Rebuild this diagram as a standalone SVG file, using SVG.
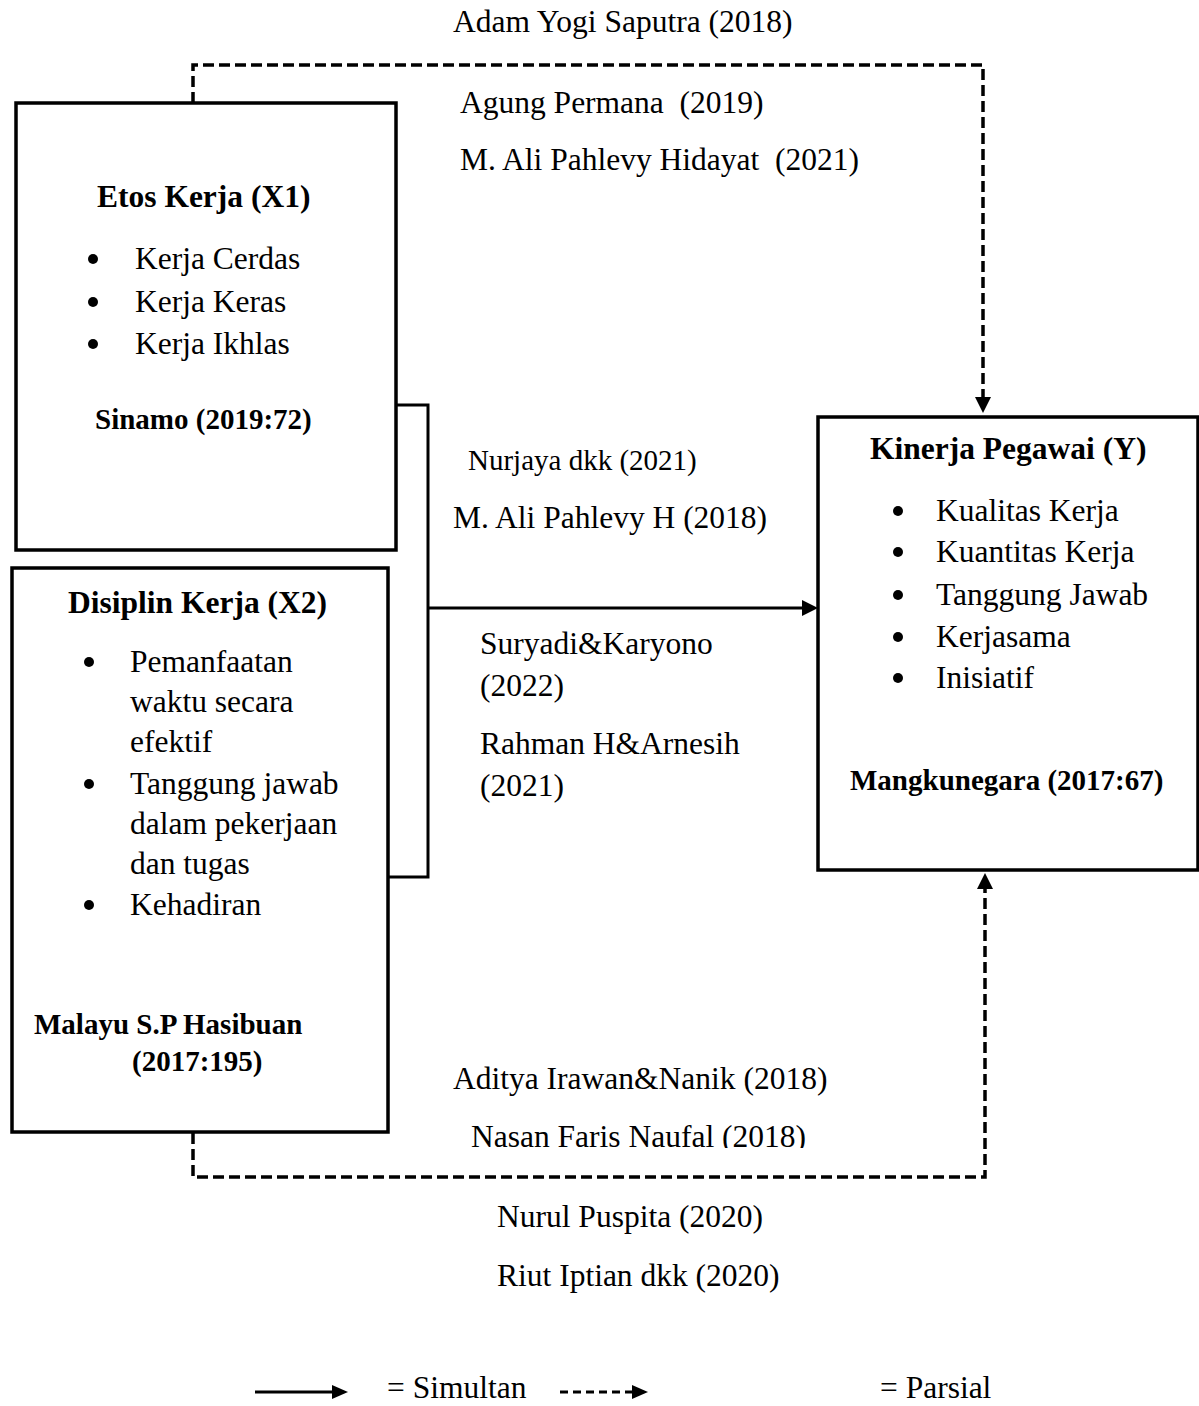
<svg xmlns="http://www.w3.org/2000/svg" width="1199" height="1406" viewBox="0 0 1199 1406">
<style>
text{font-family:"Liberation Serif","Times New Roman",serif;fill:#000;font-size:31.5px;white-space:pre}
.b{font-weight:bold}
.s{font-size:29px}
.box{fill:#fff;stroke:#000;stroke-width:3.5}
.solid{fill:none;stroke:#000;stroke-width:3}
.dash{fill:none;stroke:#000;stroke-width:3.5;stroke-dasharray:11 5}
</style>
<defs>
<clipPath id="clipNasan"><rect x="400" y="1100" width="500" height="48"/></clipPath>
</defs>
<rect width="1199" height="1406" fill="#fff"/>

<g id="connectors">
<path class="dash" d="M193,103 V65 H983 V398"/>
<path d="M975,397 L991,397 L983,413 z" fill="#000"/>
<path class="dash" d="M193,1133 V1177 H985 V889"/>
<path d="M977,889 L993,889 L985,873 z" fill="#000"/>
<path class="solid" d="M396,405 H428 V877 H388"/>
<path class="solid" d="M428,608 H802"/>
<path d="M802,600 L818,608 L802,616 z" fill="#000"/>
</g>

<g id="labels">
<text x="453" y="32" font-size="32">Adam Yogi Saputra (2018)</text>
<text x="460" y="113" xml:space="preserve">Agung Permana  (2019)</text>
<text x="460" y="170" xml:space="preserve">M. Ali Pahlevy Hidayat  (2021)</text>
<text class="s" x="468" y="470">Nurjaya dkk (2021)</text>
<text x="453" y="528">M. Ali Pahlevy H (2018)</text>
<text x="480" y="654">Suryadi&amp;Karyono</text>
<text x="480" y="696">(2022)</text>
<text x="480" y="754">Rahman H&amp;Arnesih</text>
<text x="480" y="796">(2021)</text>
<text x="453" y="1089">Aditya Irawan&amp;Nanik (2018)</text>
<text x="471" y="1147" clip-path="url(#clipNasan)">Nasan Faris Naufal (2018)</text>
<text x="497" y="1227">Nurul Puspita (2020)</text>
<text x="497" y="1286">Riut Iptian dkk (2020)</text>
</g>

<g id="node-x1">
<rect class="box" x="16" y="103" width="380" height="447"/>
<text class="b" x="97" y="207">Etos Kerja (X1)</text>
<circle cx="93" cy="259" r="5"/><text x="135" y="269">Kerja Cerdas</text>
<circle cx="93" cy="302" r="5"/><text x="135" y="312">Kerja Keras</text>
<circle cx="93" cy="344" r="5"/><text x="135" y="354">Kerja Ikhlas</text>
<text class="b s" x="95" y="429">Sinamo (2019:72)</text>
</g>

<g id="node-x2">
<rect class="box" x="12" y="568" width="376" height="564"/>
<text class="b" x="68" y="613">Disiplin Kerja (X2)</text>
<circle cx="89" cy="662" r="5"/><text x="130" y="672">Pemanfaatan</text>
<text x="130" y="712">waktu secara</text>
<text x="130" y="752">efektif</text>
<circle cx="89" cy="784" r="5"/><text x="130" y="794">Tanggung jawab</text>
<text x="130" y="834">dalam pekerjaan</text>
<text x="130" y="874">dan tugas</text>
<circle cx="89" cy="905" r="5"/><text x="130" y="915">Kehadiran</text>
<text class="b s" x="34" y="1034">Malayu S.P Hasibuan</text>
<text class="b s" x="132" y="1071">(2017:195)</text>
</g>

<g id="node-y">
<rect class="box" x="818" y="417" width="380" height="453"/>
<text class="b" x="870" y="459">Kinerja Pegawai (Y)</text>
<circle cx="898" cy="511" r="5"/><text x="936" y="521">Kualitas Kerja</text>
<circle cx="898" cy="552" r="5"/><text x="936" y="562">Kuantitas Kerja</text>
<circle cx="898" cy="595" r="5"/><text x="936" y="605">Tanggung Jawab</text>
<circle cx="898" cy="637" r="5"/><text x="936" y="647">Kerjasama</text>
<circle cx="898" cy="678" r="5"/><text x="936" y="688">Inisiatif</text>
<text class="b s" x="850" y="790">Mangkunegara (2017:67)</text>
</g>

<g id="legend">
<path class="solid" d="M255,1392 H332"/>
<path d="M332,1385 L348,1392 L332,1399 z" fill="#000"/>
<text x="387" y="1398" font-size="30">= Simultan</text>
<path class="solid" d="M560,1392 H632" stroke-dasharray="8 5"/>
<path d="M632,1385 L648,1392 L632,1399 z" fill="#000"/>
<text x="880" y="1398" font-size="30">= Parsial</text>
</g>
</svg>
